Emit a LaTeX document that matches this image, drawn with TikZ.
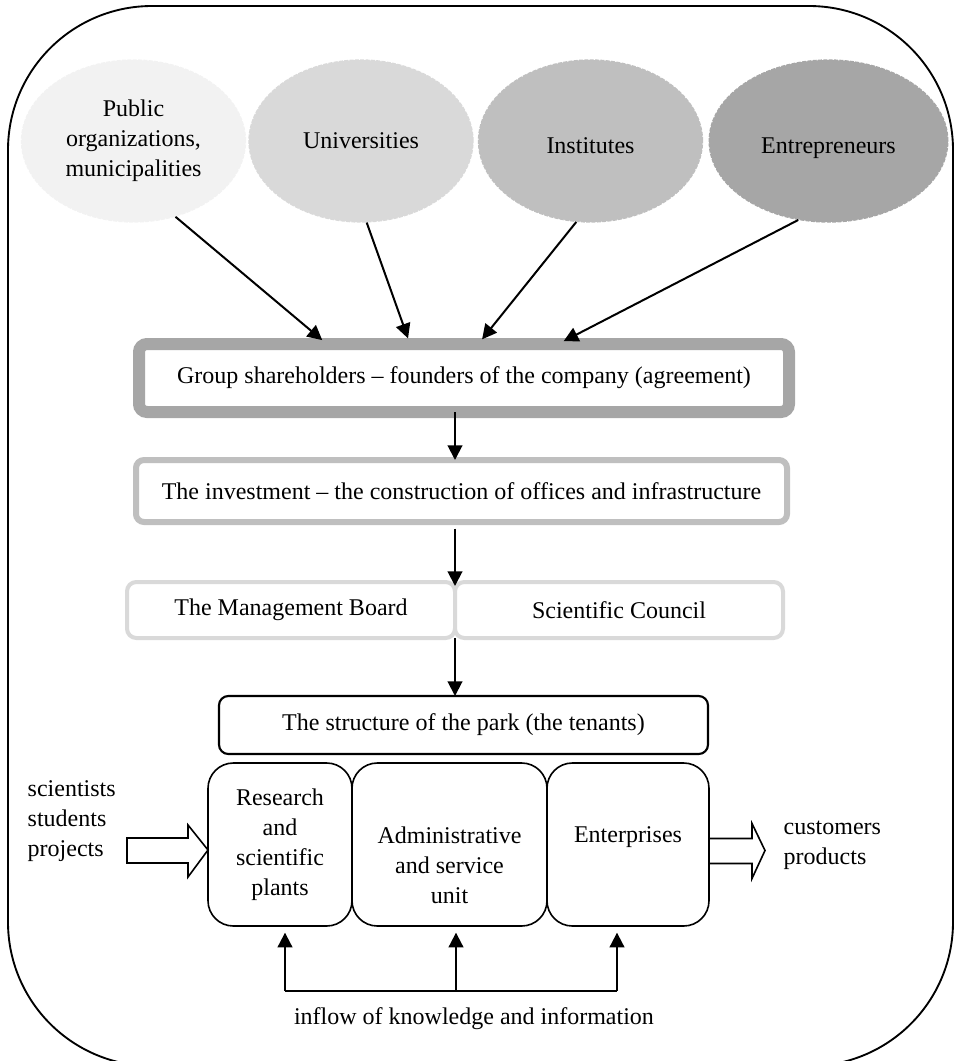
\documentclass[tikz,border=0pt]{standalone}
\usepackage{fontspec}
\setmainfont{Liberation Serif}
\usetikzlibrary{arrows.meta,positioning,calc,shapes.geometric}
\definecolor{parkPale}{HTML}{F2F2F2}
\definecolor{parkLight}{HTML}{D9D9D9}
\definecolor{parkMid}{HTML}{BFBFBF}
\definecolor{parkDark}{HTML}{A6A6A6}
\tikzset{
    >={Triangle[length=11pt,width=11pt]},
    frame/.style={draw=black, line width=1.4pt, rounded corners=108pt},
    founder/.style={ellipse, draw=#1, fill=#1, dash pattern=on 3pt off 1pt, line width=1pt, minimum width=168pt, minimum height=121.5pt, align=center, inner sep=0pt},
    grpbox/.style={draw=parkDark, line width=9pt, rounded corners=6pt, fill=white, outer sep=0pt, minimum width=487.5pt, minimum height=51pt},
    invbox/.style={draw=parkMid, line width=4.5pt, rounded corners=6pt, fill=white, outer sep=0pt, minimum width=488.25pt, minimum height=46.5pt},
    govbox/.style={draw=parkLight, line width=3pt, rounded corners=7pt, fill=white, outer sep=0pt, minimum width=246pt, minimum height=42pt},
    parkbox/.style={draw=black, line width=1.6pt, rounded corners=7pt, outer sep=0pt, minimum width=366.75pt, minimum height=43.5pt},
    unitbox/.style={draw=black, line width=1.2pt, rounded corners=19pt, outer sep=0pt, minimum height=122.25pt, align=center},
    arr/.style={->, line width=1.5pt},
    hollow/.style={draw=black, line width=1.2pt, fill=white, line join=miter}
}
\begin{document}
\begin{tikzpicture}[x=0.75pt, y=-0.75pt, font=\fontsize{18}{22.5}\selectfont]
\useasboundingbox (0,0) rectangle (957,1061);
\draw[frame] (8,6) rectangle (953,1066);

% founders
\node[founder=parkPale] (pub) at (133.5,141) {Public\\organizations,\\municipalities};
\node[founder=parkLight] (uni) at (361,141) {Universities};
\node[founder=parkMid] (ins) at (590.5,141) {\raisebox{-9pt}[0pt][0pt]{Institutes}};
\node[founder=parkDark, minimum width=179pt] (entr) at (828.5,141) {\raisebox{-9pt}[0pt][0pt]{Entrepreneurs}};

% management chain
\node[grpbox] (grp) at (464,378) {Group shareholders -- founders of the company (agreement)};
\node[invbox] (inv) at (461.5,491) {The investment -- the construction of offices and infrastructure};
\node[govbox] (mgt) at (291,610) {The Management Board};
\node[govbox] (sci) at (619,610) {Scientific Council};
\node[parkbox] (park) at (463.5,725) {The structure of the park (the tenants)};

% tenants
\node[unitbox, minimum width=108pt] (res) at (280,844.5) {Research\\and\\scientific\\plants};
\node[unitbox, minimum width=146.25pt] (adm) at (449.5,844.5) {};
\node[unitbox, minimum width=121.5pt] (firm) at (628,844.5) {};
\node[align=center] (admT) at (449.5,865) {Administrative\\and service\\unit};
\node (firmT) at (628,837) {Enterprises};

\draw[arr, shorten >=4.5pt] (pub.-61) -- ($(grp.north west)!0.289!(grp.north east)$);
\draw[arr, shorten >=4.5pt] (uni.-86) -- ($(grp.north west)!0.417!(grp.north east)$);
\draw[arr, shorten >=4.5pt] (ins.-100) -- ($(grp.north west)!0.522!(grp.north east)$);
\draw[arr, shorten >=4.5pt] (entr.-111) -- ($(grp.north west)!0.645!(grp.north east)$);

\draw[arr] (grp.south -| mgt.east) -- (inv.north -| mgt.east);
\draw[arr, shorten <=5pt, shorten >=-3pt] (inv.south -| mgt.east) -- (mgt.north east);
\draw[arr] (mgt.south east) -- (park.north -| mgt.east);

% inputs and outputs
\node[anchor=west, align=left] (src) at (23,821) {scientists\\students\\projects};
\node[anchor=west, align=left] (dst) at (779,845) {customers\\products};
\coordinate (inTip) at ($(res.west)+(0,5.5)$);
\coordinate (outTip) at ($(firm.east)+(56,6)$);
\draw[hollow] (inTip) -- ++(-20,-25) -- ++(0,13) -- ++(-61,0) -- ++(0,25) -- ++(61,0) -- ++(0,14) -- cycle;
\draw[hollow] (outTip) -- ++(-13,-27) -- ++(0,15) -- ++(-43,0) -- ++(0,25) -- ++(43,0) -- ++(0,15) -- cycle;

% knowledge inflow
\node (flow) at (474,1019) {inflow of knowledge and information};
\coordinate (k1) at ($(res.south)+(5,65)$);
\coordinate (k2) at ($(adm.south)+(6.5,65)$);
\coordinate (k3) at ($(firm.south)+(-11,65)$);
\draw[line width=1.5pt] (k1) -- (k3);
\draw[arr, shorten >=5pt] (k1) -- (k1 |- res.south);
\draw[arr, shorten >=5pt] (k2) -- (k2 |- adm.south);
\draw[arr, shorten >=5pt] (k3) -- (k3 |- firm.south);
\end{tikzpicture}
\end{document}
